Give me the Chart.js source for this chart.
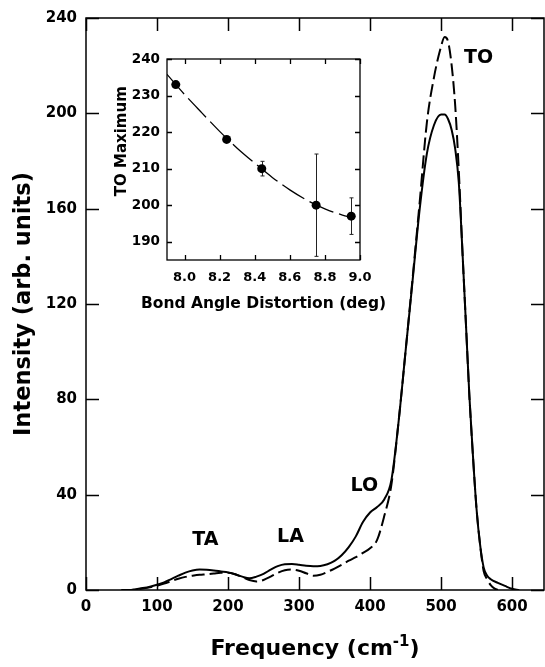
<!DOCTYPE html>
<html><head><meta charset="utf-8">
<script src="https://cdn.jsdelivr.net/npm/chart.js@4.4.1/dist/chart.umd.min.js"></script>
<style>
html,body{margin:0;padding:0;background:#fff;}
#wrap{position:relative;width:545px;height:667px;overflow:hidden;}
#main{position:absolute;left:0;top:0;}
#inset{position:absolute;left:80px;top:30px;}
</style></head><body>
<div id="wrap">
<canvas id="main" width="545" height="667"></canvas>
<canvas id="inset" width="320" height="290"></canvas>
</div>
<script>
// ---- Main spectrum data ----
const FREQ_SOLID = [50,60,70,80,90,100,110,120,130,140,150,160,170,180,190,200,210,220,230,240,250,260,270,280,290,300,310,320,330,340,350,360,370,380,390,400,410,420,430,440,450,460,470,480,490,500,505,510,515,520,525,530,535,540,545,550,555,560,565,570,580,590,600,610];
const INT_SOLID  = [0,0,0.3,0.8,1.4,2.2,3.2,4.6,6.0,7.3,8.2,8.6,8.5,8.2,7.8,7.4,6.6,5.6,4.9,5.6,6.8,8.5,10.0,10.8,10.9,10.6,10.2,10.0,10.1,10.8,12.2,14.6,18.0,22.5,28.5,32.5,34.8,38.0,46.0,70,100,130,160,183,195,199.5,199.5,197.5,193,185,171,143,112,81,56,34,19,9.5,6.0,4.5,3.0,1.7,0.5,0];
const FREQ_DASH  = [50,60,70,80,90,100,110,120,130,140,150,160,170,180,190,200,210,220,230,240,250,260,270,280,290,300,310,320,330,340,350,360,370,380,390,400,410,420,430,440,450,460,470,480,490,500,505,510,515,520,525,530,535,540,545,550,555,560,565,570,575,580];
const INT_DASH   = [0,0,0.2,0.6,1.1,1.8,2.7,3.7,4.7,5.5,6.0,6.4,6.6,6.9,7.2,7.2,6.6,5.4,4.2,3.6,4.2,5.6,7.2,8.3,8.6,8.1,7.0,6.0,6.4,7.6,9.0,10.6,12.3,13.8,15.6,17.5,21,31,44,70,100,131,163,196,215,228,232,230,220,203,176,143,112,81,56,34,19,8,4.5,2,0.7,0];
const X_TICKS = [0,100,200,300,400,500,600];
const Y_TICKS = [0,40,80,120,160,200,240];
const NOTE_TEXT = ['TA','LA','LO','TO'];
const NOTE_X = [168,288,392,553];
const NOTE_Y = [20.8,22.2,43.6,223.4];

// ---- Inset data ----
const ANGLE = [7.95,8.24,8.44,8.75,8.95];
const TO_MAX = [233,218,210,200,197];
const TO_ERR = [0,0,2,14,5];
const FIT_ANGLE = [7.9,8.0,8.1,8.2,8.3,8.4,8.5,8.6,8.7,8.8,8.9,8.95];
const FIT_TO = [235.8,230.3,225.2,220.2,215.6,211.5,207.6,204.2,201.3,199.0,197.3,196.7];
const INSET_X_TICKS = [8.0,8.2,8.4,8.6,8.8,9.0];
const INSET_Y_TICKS = [190,200,210,220,230,240];

const FAM = "'DejaVu Sans'";
const pts = (xs, ys) => xs.map((x,i)=>({x, y: ys[i]}));

function framePlugin(len, lw){
  return { id:'frame', afterDatasetsDraw(chart){
    const {ctx, chartArea:a, scales:{x,y}} = chart;
    ctx.save();
    ctx.strokeStyle='#000'; ctx.lineWidth=lw;
    ctx.strokeRect(a.left, a.top, a.right-a.left, a.bottom-a.top);
    ctx.beginPath();
    x.ticks.forEach(t=>{ const p=Math.round(x.getPixelForValue(t.value))+0.5;
      ctx.moveTo(p,a.bottom); ctx.lineTo(p,a.bottom-len);
      ctx.moveTo(p,a.top); ctx.lineTo(p,a.top+len); });
    y.ticks.forEach(t=>{ const p=Math.round(y.getPixelForValue(t.value))+0.5;
      ctx.moveTo(a.left,p); ctx.lineTo(a.left+len,p);
      ctx.moveTo(a.right,p); ctx.lineTo(a.right-len,p); });
    ctx.stroke();
    ctx.restore();
  }};
}
// x-axis title drawn as text runs (allows a real superscript and no width squeeze)
function xTitlePlugin(runs, offsetBelowArea){
  return { id:'xtitle', afterDraw(chart){
    const {ctx, chartArea:a} = chart;
    ctx.save(); ctx.fillStyle='#000'; ctx.textBaseline='alphabetic'; ctx.textAlign='left';
    let total = 0;
    runs.forEach(r=>{ ctx.font = 'bold '+r.size+'px '+FAM; total += ctx.measureText(r.text).width; });
    let x = (a.left + a.right)/2 - total/2;
    const base = a.bottom + offsetBelowArea;
    runs.forEach(r=>{ ctx.font = 'bold '+r.size+'px '+FAM; ctx.fillText(r.text, x, base - (r.rise||0)); x += ctx.measureText(r.text).width; });
    ctx.restore();
  }};
}
const notesPlugin = { id:'notes', afterDatasetsDraw(chart){
  const {ctx, scales:{x,y}} = chart;
  ctx.save();
  ctx.font = "bold 19px " + FAM; ctx.fillStyle='#000';
  ctx.textAlign='center'; ctx.textBaseline='middle';
  NOTE_TEXT.forEach((t,i)=>ctx.fillText(t, x.getPixelForValue(NOTE_X[i]), y.getPixelForValue(NOTE_Y[i])));
  ctx.restore();
}};
const errPlugin = { id:'errbars', beforeDatasetsDraw(chart){
  const {ctx, scales:{x,y}} = chart;
  ctx.save(); ctx.strokeStyle='#222'; ctx.lineWidth=1;
  ANGLE.forEach((a,i)=>{ if(!TO_ERR[i]) return;
    const px=Math.round(x.getPixelForValue(a))+0.5;
    const y1=y.getPixelForValue(TO_MAX[i]+TO_ERR[i]), y2=y.getPixelForValue(TO_MAX[i]-TO_ERR[i]);
    ctx.beginPath(); ctx.moveTo(px,y1); ctx.lineTo(px,y2);
    ctx.moveTo(px-2,y1); ctx.lineTo(px+2,y1); ctx.moveTo(px-2,y2); ctx.lineTo(px+2,y2);
    ctx.stroke(); });
  ctx.restore();
}};

function axisCommon(ticksArr, fontSize, pad){
  return {
    type:'linear',
    grid:{display:false, drawTicks:false}, border:{display:false},
    afterBuildTicks(s){ s.ticks = ticksArr.map(v=>({value:v})); },
    ticks:{font:{family:FAM,size:fontSize,weight:'bold'}, color:'#000', padding:pad, maxRotation:0, autoSkip:false}
  };
}

new Chart(document.getElementById('main'), {
  type:'line',
  data:{datasets:[
    {data:pts(FREQ_SOLID, INT_SOLID), borderColor:'#000', borderWidth:2, pointRadius:0, cubicInterpolationMode:'monotone', fill:false},
    {data:pts(FREQ_DASH, INT_DASH), borderColor:'#000', borderWidth:2, borderDash:[13,5], pointRadius:0, cubicInterpolationMode:'monotone', fill:false}
  ]},
  options:{
    responsive:false, animation:false, events:[],
    layout:{padding:{top:14,right:1,left:0,bottom:0}},
    plugins:{legend:{display:false}, tooltip:{enabled:false}},
    scales:{
      x:Object.assign(axisCommon(X_TICKS,15,8), {min:0, max:645,
        afterFit(s){ s.height = 77; }}),
      y:Object.assign(axisCommon(Y_TICKS,15,9), {min:0, max:240,
        afterFit(s){ s.width = 86; },
        title:{display:true, text:'Intensity (arb. units)', color:'#000', font:{family:FAM,size:22.5,weight:'bold'}, padding:{top:11,bottom:0}}})
    }
  },
  plugins:[framePlugin(13,1.5), notesPlugin,
    xTitlePlugin([{text:'Frequency (cm',size:22},{text:'-1',size:15,rise:9},{text:')',size:22}], 65)]
});

new Chart(document.getElementById('inset'), {
  type:'line',
  data:{datasets:[
    {data:pts(FIT_ANGLE, FIT_TO), borderColor:'#000', borderWidth:1.3, borderDash:[26,6], pointRadius:0, cubicInterpolationMode:'monotone', fill:false},
    {data:pts(ANGLE, TO_MAX), showLine:false, pointRadius:4.5, pointBackgroundColor:'#000', pointBorderColor:'#000', pointBorderWidth:0}
  ]},
  options:{
    responsive:false, animation:false, events:[],
    layout:{padding:{top:29,right:40,left:0,bottom:0}},
    plugins:{legend:{display:false}, tooltip:{enabled:false}},
    scales:{
      x:Object.assign(axisCommon(INSET_X_TICKS,13,9.5), {min:7.9, max:9.0,
        afterFit(s){ s.height = 60; },
        ticks:{font:{family:FAM,size:13,weight:'bold'}, color:'#000', padding:9.5, maxRotation:0, autoSkip:false, callback:v=>Number(v).toFixed(1)}}),
      y:Object.assign(axisCommon(INSET_Y_TICKS,13.5,7), {min:185, max:240,
        afterFit(s){ s.width = 87; },
        title:{display:true, text:'       TO Maximum', color:'#000', font:{family:FAM,size:15,weight:'bold'}, padding:{top:33,bottom:0}}})
    }
  },
  plugins:[framePlugin(5,1.3), errPlugin,
    xTitlePlugin([{text:'Bond Angle Distortion (deg)',size:15.5}], 48)]
});
</script>
</body></html>
